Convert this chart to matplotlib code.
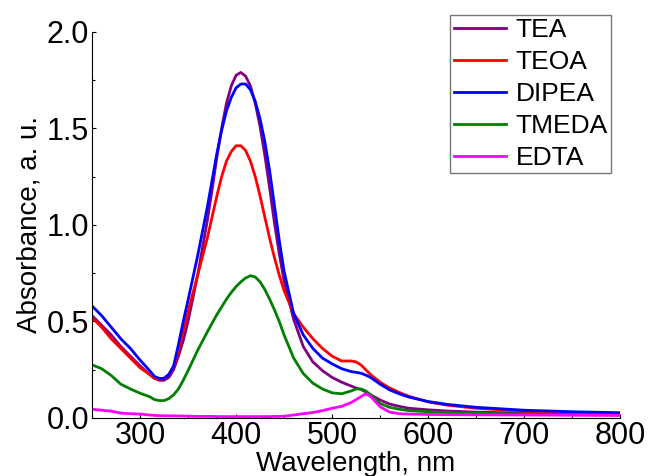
import numpy as np
import matplotlib
matplotlib.use("Agg")
import matplotlib.pyplot as plt
from matplotlib.ticker import MultipleLocator

plt.rcParams['font.family'] = ['Liberation Sans', 'DejaVu Sans']

# wavelength grid, nm
wl = [250, 260, 270, 280, 290, 300, 310, 315, 320, 325, 330, 335, 340, 345, 350,
      360, 370, 375, 380, 385, 390, 395, 400, 405, 410, 415, 420, 425, 430, 435,
      440, 445, 450, 460, 470, 480, 490, 500, 510, 520, 525, 530, 535, 540, 550,
      560, 570, 580, 600, 620, 650, 700, 750, 800]

tea = [.53, .48, .43, .37, .32, .27, .225, .205, .195, .195, .21, .25, .32, .40, .50,
       .74, 1.02, 1.18, 1.35, 1.50, 1.63, 1.72, 1.775, 1.79, 1.77, 1.72, 1.63, 1.51, 1.36, 1.19,
       1.01, .85, .71, .51, .37, .29, .245, .21, .185, .165, .155, .148, .135, .12, .093,
       .072, .06, .05, .042, .036, .03, .025, .022, .02]
teoa = [.52, .47, .41, .36, .31, .26, .225, .205, .20, .205, .225, .265, .35, .45, .55,
        .74, .93, 1.04, 1.15, 1.25, 1.33, 1.38, 1.41, 1.41, 1.385, 1.33, 1.25, 1.15, 1.04, .93,
        .83, .74, .66, .54, .47, .41, .36, .32, .295, .295, .29, .275, .25, .225, .185,
        .155, .132, .112, .083, .066, .05, .035, .027, .022]
dipea = [.58, .53, .47, .41, .36, .30, .245, .215, .205, .205, .225, .27, .38, .50, .61,
         .84, 1.09, 1.23, 1.37, 1.49, 1.59, 1.66, 1.71, 1.73, 1.73, 1.70, 1.64, 1.55, 1.43, 1.28,
         1.10, .92, .76, .54, .43, .36, .31, .28, .255, .24, .236, .232, .222, .21, .175,
         .145, .125, .108, .085, .07, .055, .04, .032, .027]
tmeda = [.275, .255, .22, .175, .15, .128, .11, .095, .09, .09, .10, .12, .15, .195, .245,
         .35, .445, .49, .535, .575, .615, .65, .68, .705, .725, .737, .73, .705, .665, .615,
         .56, .50, .43, .31, .23, .18, .15, .13, .125, .14, .15, .15, .14, .12, .075,
         .055, .045, .038, .032, .028, .024, .02, .017, .015]
edta = [.045, .04, .035, .025, .022, .02, .015, .013, .012, .011, .011, .011, .01, .01, .009,
        .008, .008, .008, .007, .007, .007, .007, .007, .007, .007, .007, .007, .007, .007, .007,
        .008, .008, .009, .015, .022, .028, .038, .05, .06, .08, .095, .11, .125, .112, .058,
        .03, .022, .02, .018, .017, .016, .015, .014, .013]

labels = ['TEA', 'TEOA', 'DIPEA', 'TMEDA', 'EDTA']
colors = ['#800080', '#ff0000', '#0000ff', '#008000', '#ff00ff']

fig = plt.figure(figsize=(6.48, 4.76), dpi=100)
ax = fig.add_axes([0.142, 0.122, 0.815, 0.811])

for y, lab, c in zip([tea, teoa, dipea, tmeda, edta], labels, colors):
    ax.plot(wl, y, color=c, lw=2, label=lab)

ax.set_xlim(250, 800)
ax.set_ylim(0, 2.0)
ax.xaxis.set_major_locator(MultipleLocator(100))
ax.xaxis.set_minor_locator(MultipleLocator(50))
ax.yaxis.set_major_locator(MultipleLocator(0.5))
ax.yaxis.set_minor_locator(MultipleLocator(0.25))
ax.tick_params(which='both', direction='in', labelsize=22, width=0.8)
ax.tick_params(which='major', length=3, pad=2)
ax.tick_params(which='minor', length=2)
for s in ['top', 'right']:
    ax.spines[s].set_visible(False)

ax.set_xlabel('Wavelength, nm', fontsize=20, labelpad=0)
ax.set_ylabel('Absorbance, a. u.', fontsize=20, labelpad=3)

leg = ax.legend(loc='upper right', bbox_to_anchor=(611/648, 1 - 15/476),
                bbox_transform=fig.transFigure, borderaxespad=0, fontsize=19,
                fancybox=False, handlelength=2.0, handletextpad=0.35,
                labelspacing=0.3, borderpad=0.12, frameon=True)
leg.get_frame().set_edgecolor('#555555')
leg.get_frame().set_linewidth(1.0)

fig.savefig('out.png', dpi=100)
